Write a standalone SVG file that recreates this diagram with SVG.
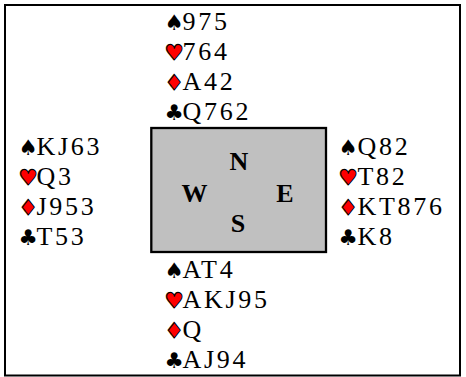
<svg xmlns="http://www.w3.org/2000/svg" width="466" height="377" viewBox="0 0 466 377">
<style>
.cards{font-family:"Liberation Serif","Times New Roman",serif;font-size:26px;letter-spacing:2.7px;fill:#000}
.suit{font-family:"DejaVu Sans",sans-serif;font-size:21.5px;letter-spacing:0}
.blk{fill:#000}
.red{fill:#ff0000;stroke:#000;stroke-width:1.1px}
.dir{font-family:"Liberation Serif","Times New Roman",serif;font-size:26px;font-weight:bold;fill:#000;text-anchor:middle}
</style>
<rect x="5" y="5" width="455" height="370.5" fill="#fff" stroke="#000" stroke-width="2"/>
<g id="table">
<rect x="151.3" y="128" width="174.7" height="124" fill="#c0c0c0" stroke="#000" stroke-width="2.3"/>
<text class="dir" x="239" y="170">N</text>
<text class="dir" x="194.5" y="202">W</text>
<text class="dir" x="285" y="202">E</text>
<text class="dir" x="238" y="232">S</text>
</g>
<g id="north" class="cards">
<text y="30"><tspan class="suit blk" x="164.5">♠</tspan><tspan x="182.5">975</tspan></text>
<text y="60"><tspan class="suit red" x="164.5">♥</tspan><tspan x="182.5">764</tspan></text>
<text y="90"><tspan class="suit red" x="164.5">♦</tspan><tspan x="182.5">A42</tspan></text>
<text y="120"><tspan class="suit blk" x="164.5">♣</tspan><tspan x="182.5">Q762</tspan></text>
</g>
<g id="west" class="cards">
<text y="155"><tspan class="suit blk" x="18.5">♠</tspan><tspan x="36.5">KJ63</tspan></text>
<text y="185"><tspan class="suit red" x="18.5">♥</tspan><tspan x="36.5">Q3</tspan></text>
<text y="215"><tspan class="suit red" x="18.5">♦</tspan><tspan x="36.5">J953</tspan></text>
<text y="245"><tspan class="suit blk" x="18.5">♣</tspan><tspan x="36.5">T53</tspan></text>
</g>
<g id="east" class="cards">
<text y="155"><tspan class="suit blk" x="338.5">♠</tspan><tspan x="357.5">Q82</tspan></text>
<text y="185"><tspan class="suit red" x="338.5">♥</tspan><tspan x="357.5">T82</tspan></text>
<text y="215"><tspan class="suit red" x="338.5">♦</tspan><tspan x="357.5">KT876</tspan></text>
<text y="245"><tspan class="suit blk" x="338.5">♣</tspan><tspan x="357.5">K8</tspan></text>
</g>
<g id="south" class="cards">
<text y="278"><tspan class="suit blk" x="164.5">♠</tspan><tspan x="182.5">AT4</tspan></text>
<text y="308"><tspan class="suit red" x="164.5">♥</tspan><tspan x="182.5">AKJ95</tspan></text>
<text y="338"><tspan class="suit red" x="164.5">♦</tspan><tspan x="182.5">Q</tspan></text>
<text y="368"><tspan class="suit blk" x="164.5">♣</tspan><tspan x="182.5">AJ94</tspan></text>
</g>
<g id="connectors"/>
</svg>
